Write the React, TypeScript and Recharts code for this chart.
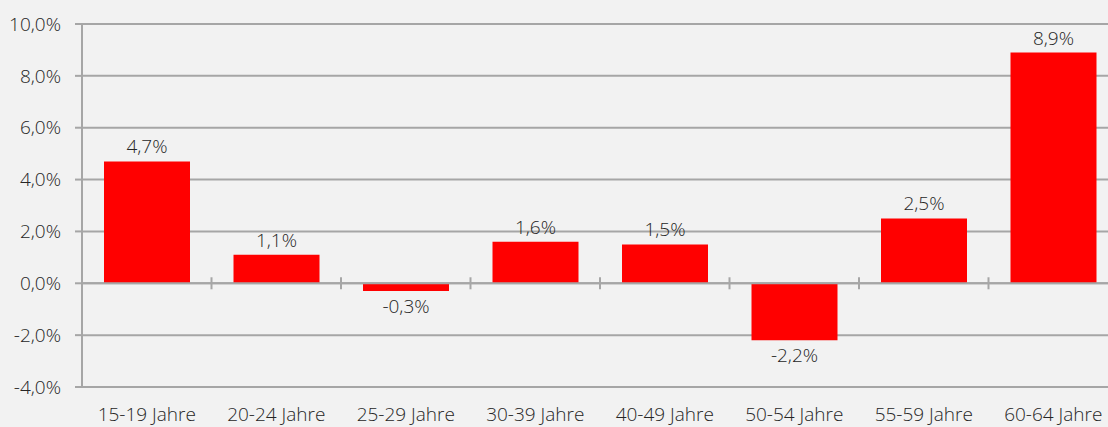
import React from "react";
import { BarChart, Bar, XAxis, YAxis, CartesianGrid, LabelList, ReferenceLine } from "recharts";

const ageGroups = [
  "15-19 Jahre",
  "20-24 Jahre",
  "25-29 Jahre",
  "30-39 Jahre",
  "40-49 Jahre",
  "50-54 Jahre",
  "55-59 Jahre",
  "60-64 Jahre",
];
const changes = [4.7, 1.1, -0.3, 1.6, 1.5, -2.2, 2.5, 8.9];
const yTicks = [-4, -2, 0, 2, 4, 6, 8, 10];

const data = ageGroups.map((group, i) => ({ group, change: changes[i] }));

const FONT = "'Open Sans', Lato, sans-serif";
const TEXT = "#262626";
const GRID = "#a6a6a6";
const textStyle = { fill: TEXT, fontSize: 19, fontFamily: FONT, fontWeight: 300 };

const pct = (v: number) => v.toFixed(1).replace(".", ",") + "%";

function ZeroAxis(props: any) {
  const { x1, x2, y1 } = props;
  const band = (x2 - x1) / ageGroups.length;
  return (
    <g>
      <line x1={x1} x2={x2} y1={y1} y2={y1} stroke={GRID} strokeWidth={2} />
      {ageGroups.slice(1).map((g, i) => (
        <line
          key={g}
          x1={x1 + band * (i + 1)}
          x2={x1 + band * (i + 1)}
          y1={y1 - 6}
          y2={y1 + 6}
          stroke={GRID}
          strokeWidth={2}
        />
      ))}
    </g>
  );
}

export default function App() {
  return (
    <div
      style={{
        position: "absolute",
        left: 0,
        top: 0,
        width: 1108,
        height: 427,
        overflow: "hidden",
        backgroundColor: "#f2f2f2",
      }}
    >
      <BarChart width={1118} height={427} data={data} margin={{ top: 24, right: 0, left: 0, bottom: 0 }}>
        <CartesianGrid vertical={false} stroke={GRID} strokeWidth={2} />
        <XAxis
          dataKey="group"
          height={40}
          axisLine={false}
          tickLine={false}
          tickSize={0}
          tickMargin={21}
          interval={0}
          tick={textStyle}
        />
        <YAxis
          width={82}
          domain={[-4, 10]}
          ticks={yTicks}
          tickFormatter={pct}
          axisLine={{ stroke: GRID, strokeWidth: 2 }}
          tickLine={{ stroke: GRID, strokeWidth: 2 }}
          tickSize={7}
          tickMargin={14}
          tick={textStyle}
        />
        <Bar dataKey="change" fill="#ff0000" barSize={86} isAnimationActive={false}>
          <LabelList
            dataKey="change"
            position="top"
            offset={8}
            formatter={(v: any) => pct(Number(v))}
            style={textStyle}
          />
        </Bar>
        <ReferenceLine y={0} shape={ZeroAxis} />
      </BarChart>
    </div>
  );
}
